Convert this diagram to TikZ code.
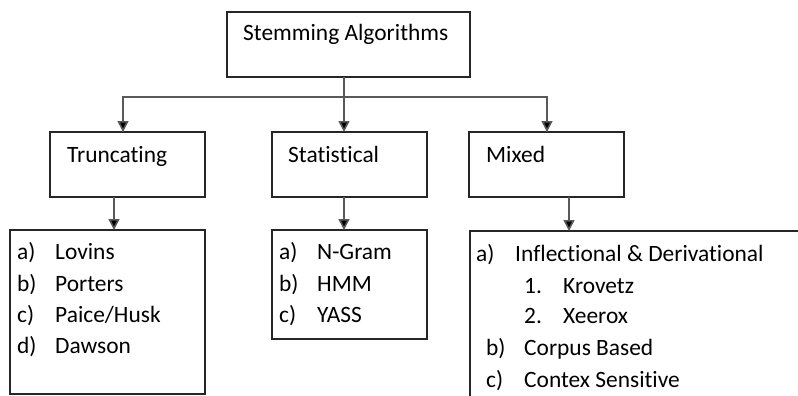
\documentclass[tikz,border=0pt]{standalone}
\usepackage{fontspec}
\setmainfont[Ligatures=NoCommon]{Carlito}
\usetikzlibrary{arrows.meta}
\begin{document}
\begin{tikzpicture}[x=1bp,y=-1bp,
  box/.style={draw=black!85,line width=1.3bp},
  conn/.style={draw=black!65,line width=1.6bp,-{Triangle[width=11bp,length=11bp,fill=black]}},
  lnk/.style={draw=black!65,line width=1.6bp},
  txt/.style={anchor=base west,inner sep=0pt,font=\fontsize{23.5}{26}\selectfont,text=black}]
\useasboundingbox (0,0) rectangle (798,395);
\clip (0,0) rectangle (798,395);
% boxes
\draw[box] (227,12) rectangle (470,77);
\node[txt] (root) at (243,40) {Stemming Algorithms};
\coordinate (rootb) at (344,77);
\coordinate (split) at (344,97);
\draw[box] (50,132) rectangle (205,197);
\coordinate (trt) at (123,132);
\coordinate (trb) at (114,197);
\node[txt] (trunc) at (67,162) {Truncating};
\draw[box] (272,132) rectangle (427,197);
\coordinate (stt) at (344,132);
\coordinate (stb) at (344,197);
\node[txt] (stat) at (288,162) {Statistical};
\draw[box] (469,132) rectangle (624,197);
\coordinate (mxt) at (547,132);
\coordinate (mxb) at (569,197);
\node[txt] (mixed) at (486,162) {Mixed};
% list boxes
\draw[box] (10,230) rectangle (205,394);
\coordinate (tlt) at (114,230);
\node[txt] (t1a) at (17,259) {a)}; \node[txt] (t1) at (55,259) {Lovins};
\node[txt] (t2a) at (17,291) {b)}; \node[txt] (t2) at (55,291) {Porters};
\node[txt] (t3a) at (17,322) {c)}; \node[txt] (t3) at (55,322) {Paice/Husk};
\node[txt] (t4a) at (17,353) {d)}; \node[txt] (t4) at (55,353) {Dawson};
\draw[box] (272,230) rectangle (427,339);
\coordinate (slt) at (344,230);
\node[txt] (s1a) at (279,259) {a)}; \node[txt] (s1) at (317,259) {N-Gram};
\node[txt] (s2a) at (279,291) {b)}; \node[txt] (s2) at (317,291) {HMM};
\node[txt] (s3a) at (279,322) {c)}; \node[txt] (s3) at (317,322) {YASS};
\draw[box] (470,231) rectangle (810,410);
\coordinate (mlt) at (569,231);
\node[txt] (m1a) at (476,261) {a)}; \node[txt] (m1) at (515,261) {Inflectional \& Derivational};
\node[txt] (m2a) at (524,293) {1.}; \node[txt] (m2) at (563,293) {Krovetz};
\node[txt] (m3a) at (524,323) {2.}; \node[txt] (m3) at (563,323) {Xeerox};
\node[txt] (m4a) at (486,355) {b)}; \node[txt] (m4) at (524,355) {Corpus Based};
\node[txt] (m5a) at (486,387) {c)}; \node[txt] (m5) at (524,387) {Contex Sensitive};
% connectors
\draw[lnk] (rootb) -- (split);
\draw[lnk] (split) -| (trt);
\draw[lnk] (split) -| (mxt);
\draw[conn] (split) -- (stt);
\draw[conn] ([yshift=0.1bp]split -| trt) -- (trt);
\draw[conn] ([yshift=0.1bp]split -| mxt) -- (mxt);
\draw[conn] (trb) -- (tlt);
\draw[conn] (stb) -- (slt);
\draw[conn] (mxb) -- (mlt);
\end{tikzpicture}
\end{document}
